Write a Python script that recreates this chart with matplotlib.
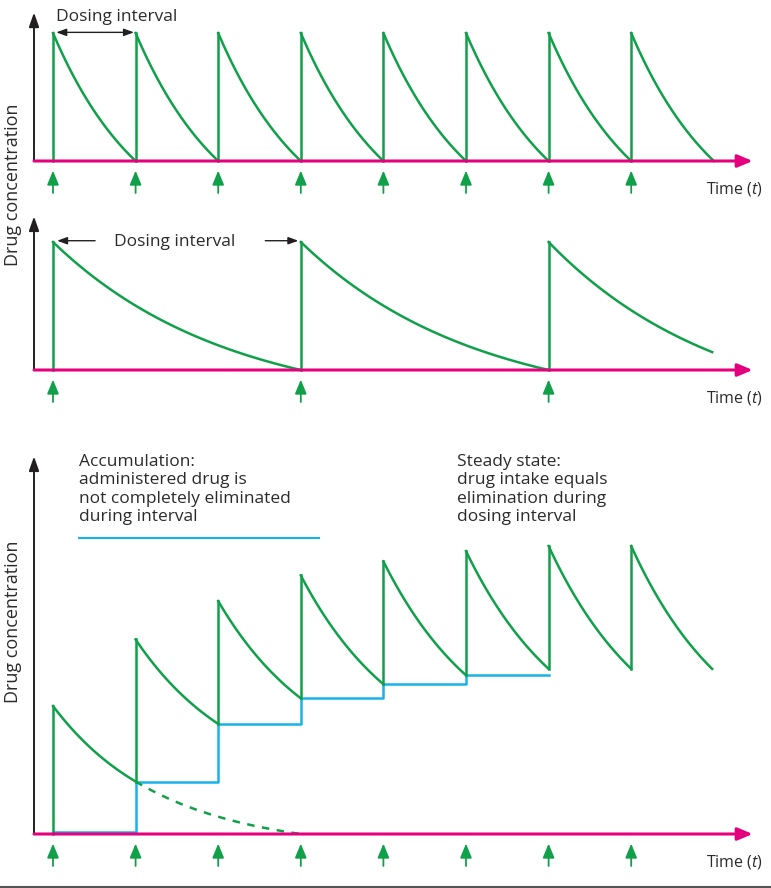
import numpy as np
import matplotlib.pyplot as plt

plt.rcParams['font.family'] = ['Open Sans', 'DejaVu Sans']
plt.rcParams['mathtext.fontset'] = 'custom'
plt.rcParams['mathtext.it'] = 'Open Sans:italic'
plt.rcParams['mathtext.rm'] = 'Open Sans'

GREEN = '#10a04a'
MAGENTA = '#e5007d'
BLUE = '#18b2ea'
BLACK = '#231f20'
TXT = '#2b2b2b'

# panel 1: short interval, fully eliminated
doses1 = [0, 1, 2, 3, 4, 5, 6, 7]
peak1 = 1.0
end1 = 8.0
# panel 2: long interval
doses2 = [0, 3, 6]
peak2 = 1.0
end2 = 7.98
last2 = 0.14
# panel 3: accumulation
doses3 = [0, 1, 2, 3, 4, 5, 6, 7]
peaks3 = [1.00, 1.52, 1.82, 2.02, 2.13, 2.21, 2.25, 2.25]
troughs3 = [0.41, 0.86, 1.06, 1.17, 1.24, 1.29, 1.29, 1.29]
end3 = 7.98
blue_levels = [0.015, 0.41, 0.86, 1.06, 1.17, 1.24]


def decay(t0, t1, c0, c1, k, n=60):
    s = np.linspace(0, 1, n)
    f = (np.exp(-k * s) - np.exp(-k)) / (1 - np.exp(-k))
    return t0 + s * (t1 - t0), c1 + (c0 - c1) * f


W, H = 771, 888
fig = plt.figure(figsize=(W / 100, H / 100), dpi=100)

X0, PXT, PXC = 53, 82.6, 128


def make_ax(base, ylo, yhi, xlo=-0.3, xhi=8.65):
    left = (X0 + PXT * xlo) / W
    width = PXT * (xhi - xlo) / W
    bottom = (H - (base - PXC * ylo)) / H
    height = PXC * (yhi - ylo) / H
    ax = fig.add_axes([left, bottom, width, height])
    ax.set_xlim(xlo, xhi)
    ax.set_ylim(ylo, yhi)
    ax.axis('off')
    return ax


def frame(ax, ytop, doses):
    ax.annotate('', xy=(-0.23, ytop), xytext=(-0.23, 0),
                arrowprops=dict(arrowstyle='-|>,head_length=0.85,head_width=0.3',
                                color=BLACK, lw=1.4, shrinkA=0, shrinkB=0), zorder=2)
    ax.annotate('', xy=(8.47, 0), xytext=(-0.23, 0),
                arrowprops=dict(arrowstyle='-|>,head_length=0.9,head_width=0.38',
                                color=MAGENTA, lw=2.2, shrinkA=0, shrinkB=0), zorder=4)
    for d in doses:
        ax.annotate('', xy=(d, -0.075), xytext=(d, -0.25),
                    arrowprops=dict(arrowstyle='-|>,head_length=0.85,head_width=0.35',
                                    color=GREEN, lw=1.3, shrinkA=0, shrinkB=0))
    ax.text(8.6, -0.215, 'Time ($t$)', ha='right', va='center', fontsize=11.5, color=TXT)


# ---- panel 1
ax1 = make_ax(161, -0.3, 1.25)
frame(ax1, 1.16, doses1)
nxt = doses1[1:] + [end1]
for d, e in zip(doses1, nxt):
    ax1.plot([d, d], [0, peak1], color=GREEN, lw=1.8, zorder=3)
    t, c = decay(d, e, peak1, 0.0, 0.9)
    ax1.plot(t, c, color=GREEN, lw=1.8, zorder=3)
ax1.text(0.036, 1.09, 'Dosing interval', ha='left', va='baseline', fontsize=12.5, color=TXT)
ax1.annotate('', xy=(0.04, 1.005), xytext=(0.98, 1.005),
             arrowprops=dict(arrowstyle='<|-|>,head_length=0.6,head_width=0.22',
                             color=BLACK, lw=1.0, shrinkA=0, shrinkB=0))

# ---- panel 2
ax2 = make_ax(370, -0.32, 1.3)
frame(ax2, 1.2, doses2)
nxt = doses2[1:] + [end2]
for i, (d, e) in enumerate(zip(doses2, nxt)):
    ax2.plot([d, d], [0, peak2], color=GREEN, lw=1.8, zorder=3)
    if i < len(doses2) - 1:
        t, c = decay(d, e, peak2, 0.0, 1.42)
    else:
        t, c = decay(d, e, peak2, last2, 0.94)
    ax2.plot(t, c, color=GREEN, lw=1.8, zorder=3)
ax2.text(1.47, 0.97, 'Dosing interval', ha='center', va='baseline', fontsize=12.5, color=TXT)
ax2.annotate('', xy=(0.05, 1.01), xytext=(0.51, 1.01),
             arrowprops=dict(arrowstyle='-|>,head_length=0.6,head_width=0.22',
                             color=BLACK, lw=1.0, shrinkA=0, shrinkB=0))
ax2.annotate('', xy=(2.97, 1.01), xytext=(2.57, 1.01),
             arrowprops=dict(arrowstyle='-|>,head_length=0.6,head_width=0.22',
                             color=BLACK, lw=1.0, shrinkA=0, shrinkB=0))

# ---- panel 3
ax3 = make_ax(834, -0.35, 3.05)
frame(ax3, 2.95, doses3)
nxt = doses3[1:] + [end3]
prev = 0.0
for d, e, p, tr in zip(doses3, nxt, peaks3, troughs3):
    ax3.plot([d, d], [prev, p], color=GREEN, lw=1.8, zorder=3)
    t, c = decay(d, e, p, tr, 0.8)
    ax3.plot(t, c, color=GREEN, lw=1.8, zorder=3)
    prev = tr

# residual of the first dose
t, c = decay(1, 3, troughs3[0], 0.0, 1.42)
ax3.plot(t, c, color=GREEN, lw=1.8, ls=(0, (3, 3)), zorder=3)

bx, by = [], []
for i, lv in enumerate(blue_levels):
    bx += [doses3[i], doses3[i + 1]]
    by += [lv, lv]
ax3.plot(bx, by, color=BLUE, lw=1.8, zorder=2)

ax3.text(0.315, 2.97, 'Accumulation:\nadministered drug is\nnot completely eliminated\nduring interval',
         ha='left', va='top', fontsize=12.5, color=TXT, linespacing=1.2)
ax3.plot([0.315, 3.22], [2.31, 2.31], color=BLUE, lw=1.5)
ax3.text(4.89, 2.97, 'Steady state:\ndrug intake equals\nelimination during\ndosing interval',
         ha='left', va='top', fontsize=12.5, color=TXT, linespacing=1.2)

fig.text(13 / W, 1 - 185 / H, 'Drug concentration', rotation=90, ha='center', va='center',
         fontsize=13, color=TXT)
fig.text(13 / W, 1 - 622 / H, 'Drug concentration', rotation=90, ha='center', va='center',
         fontsize=13, color=TXT)
fig.add_artist(plt.Line2D([0, 1], [0.0015, 0.0015], transform=fig.transFigure, color='#555555', lw=1.5))

fig.savefig('out.png', dpi=100)
